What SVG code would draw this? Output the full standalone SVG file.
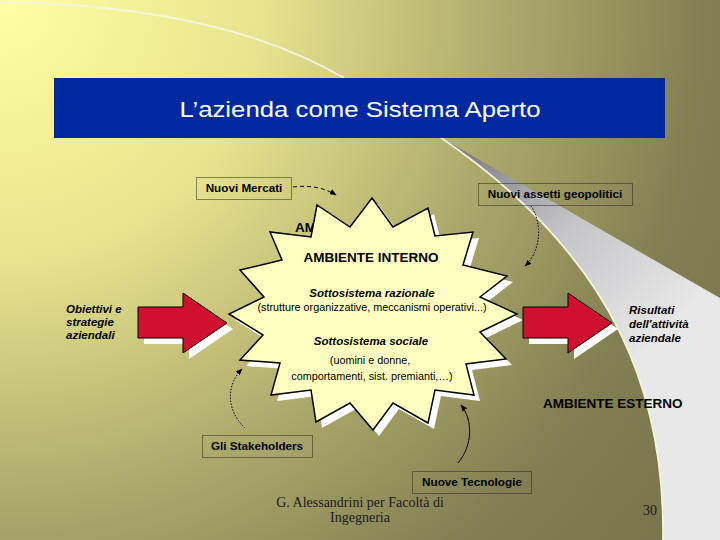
<svg xmlns="http://www.w3.org/2000/svg" width="720" height="540" viewBox="0 0 720 540">
<defs>
<radialGradient id="bg" cx="0" cy="0" r="860" gradientUnits="userSpaceOnUse">
<stop offset="0" stop-color="#ffffa2"/>
<stop offset="0.3" stop-color="#e8e48e"/>
<stop offset="0.58" stop-color="#aeaa6c"/>
<stop offset="0.82" stop-color="#827f52"/>
<stop offset="1" stop-color="#77754a"/>
</radialGradient>
<linearGradient id="swoosh" x1="470" y1="150" x2="660" y2="340" gradientUnits="userSpaceOnUse">
<stop offset="0" stop-color="#7e7e84"/>
<stop offset="0.45" stop-color="#c4c4c8"/>
<stop offset="1" stop-color="#e8e8e8"/>
</linearGradient>
<marker id="ah" viewBox="0 0 10 10" refX="9" refY="5" markerWidth="7" markerHeight="7" orient="auto" markerUnits="userSpaceOnUse">
<path d="M0,1 L10,5 L0,9 Z" fill="#000"/>
</marker>
<polygon id="starShape" points="372,198 393,227 428,208 435,236 473,232 463,265 507,276 480,297 517,314 480,332 506,359 466,364 474,395 435,390 428,423 393,403 373,430 350,403 316,422 311,390 271,395 280,363 240,360 263,335 229,314 264,297 240,270 282,260 270,232 311,237 317,205 350,227"/>
<polygon id="arrowShape" points="0,14 45,14 45,0 89,30 45,60 45,45 0,45"/>
</defs>
<style>
.lbl{font-family:"Liberation Sans",Arial,sans-serif;font-weight:bold;font-size:11.7px;fill:#000;text-anchor:middle}
.box{fill:none;stroke:#222;stroke-width:1;stroke-dasharray:1 1}
.bi{font-family:"Liberation Sans",Arial,sans-serif;font-weight:bold;font-style:italic;font-size:11.5px;fill:#000}
.reg{font-family:"Liberation Sans",Arial,sans-serif;font-size:10.8px;fill:#000;text-anchor:middle}
.big{font-family:"Liberation Sans",Arial,sans-serif;font-weight:bold;font-size:13.5px;fill:#000}
.foot{font-family:"Liberation Serif","Times New Roman",serif;font-size:14px;fill:#1a1a1a}
.conn{fill:none;stroke:#000;stroke-width:1}
</style>

<rect width="720" height="540" fill="url(#bg)"/>

<g id="background-swoosh">
<path d="M0,2 Q220,5 344,78" fill="none" stroke="#f4f4dc" stroke-width="1.8"/>
<path d="M440,137 L720,298 L720,540 L663,540 C665,400 620,260 440,137 Z" fill="url(#swoosh)"/>
<path d="M663,540 C665,400 620,260 440,137" fill="none" stroke="#f4f4dc" stroke-width="1.8"/>
</g>

<g id="title">
<rect x="54" y="78" width="611" height="60" fill="#0029a0"/>
<text x="360" y="117" font-family="'Liberation Sans',Arial,sans-serif" font-size="22" fill="#fff" text-anchor="middle" textLength="361" lengthAdjust="spacingAndGlyphs">L’azienda come Sistema Aperto</text>
</g>

<g id="ambiente-esterno-hidden">
<text class="big" x="295" y="232">AM</text>
</g>

<g id="ambiente-interno">
<use href="#starShape" transform="translate(6,6)" fill="#fff"/>
<use href="#starShape" fill="#ffffc0" stroke="#000" stroke-width="1.5" stroke-linejoin="miter"/>
<text class="big" x="371" y="262" text-anchor="middle">AMBIENTE INTERNO</text>
<text class="bi" x="372" y="297" text-anchor="middle">Sottosistema razionale</text>
<text class="reg" x="372" y="311">(strutture organizzative, meccanismi operativi...)</text>
<text class="bi" x="371" y="345" text-anchor="middle">Sottosistema sociale</text>
<text class="reg" x="370" y="364">(uomini e donne,</text>
<text class="reg" x="372" y="380">comportamenti, sist. premianti,…)</text>
</g>

<g id="input-arrow">
<use href="#arrowShape" transform="translate(144,299)" fill="#fff"/>
<use href="#arrowShape" transform="translate(138,293)" fill="#d0102f" stroke="#000" stroke-width="1"/>
</g>
<g id="obiettivi">
<text class="bi" x="66" y="313">Obiettivi e</text>
<text class="bi" x="66" y="326">strategie</text>
<text class="bi" x="66" y="339">aziendali</text>
</g>

<g id="output-arrow">
<use href="#arrowShape" transform="translate(529,299)" fill="#fff"/>
<use href="#arrowShape" transform="translate(523,293)" fill="#d0102f" stroke="#000" stroke-width="1"/>
</g>
<g id="risultati">
<text class="bi" x="629" y="314">Risultati</text>
<text class="bi" x="629" y="328">dell'attività</text>
<text class="bi" x="629" y="342">aziendale</text>
</g>

<g id="ambiente-esterno">
<text class="big" x="543" y="408">AMBIENTE ESTERNO</text>
</g>

<g id="nuovi-mercati">
<rect class="box" x="196.5" y="177.5" width="95" height="22"/>
<text class="lbl" x="244" y="192">Nuovi Mercati</text>
</g>
<g id="nuovi-assetti">
<rect class="box" x="478.5" y="183.5" width="154" height="22"/>
<text class="lbl" x="555" y="198">Nuovi assetti geopolitici</text>
</g>
<g id="stakeholders">
<rect class="box" x="202.5" y="435.5" width="110" height="22"/>
<text class="lbl" x="257" y="450">Gli Stakeholders</text>
</g>
<g id="nuove-tecnologie">
<rect class="box" x="412.5" y="471.5" width="119" height="22"/>
<text class="lbl" x="472" y="486">Nuove Tecnologie</text>
</g>

<g id="connectors">
<path class="conn" d="M293,187 Q318,184 336,195" stroke-dasharray="4 3" marker-end="url(#ah)"/>
<path class="conn" d="M531,206 C542,222 542,250 525,266" stroke-dasharray="1.5 1.5" marker-end="url(#ah)"/>
<path class="conn" d="M245,428 C226,410 226,385 242,369" stroke-dasharray="1.5 1.5" marker-end="url(#ah)"/>
<path class="conn" d="M458,463 C473,445 473,420 461,405" marker-end="url(#ah)"/>
</g>

<g id="footer">
<text class="foot" x="360" y="507" text-anchor="middle">G. Alessandrini per Facoltà di</text>
<text class="foot" x="360" y="522" text-anchor="middle">Ingegneria</text>
<text class="foot" x="643" y="515">30</text>
</g>
</svg>
